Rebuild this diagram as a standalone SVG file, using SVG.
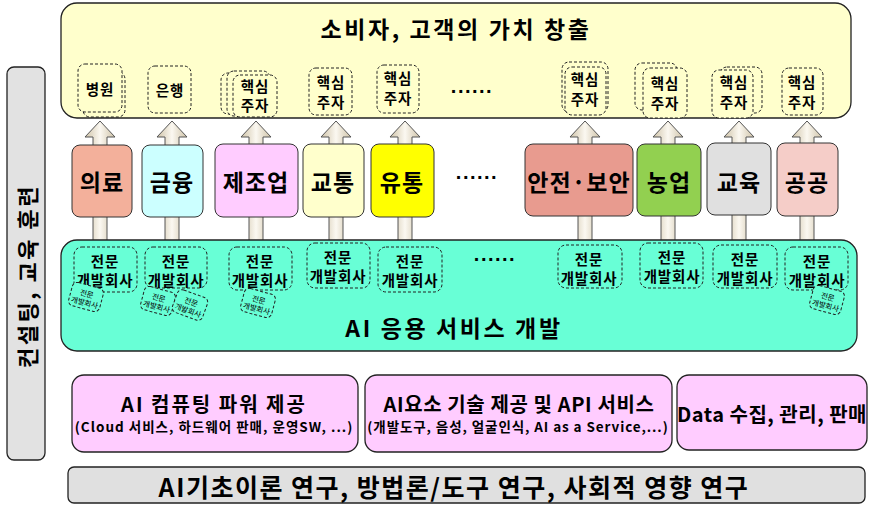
<svg xmlns="http://www.w3.org/2000/svg" width="869" height="506" viewBox="0 0 869 506">
<style>
text{font-family:"Noto Sans CJK KR","Noto Sans",sans-serif;font-weight:700;fill:#000;text-anchor:middle;dominant-baseline:central}
.big{stroke:#222;stroke-width:1.3}
.dash{fill:#ffffcc;stroke:#222;stroke-width:1;stroke-dasharray:3 2}
.dasht{fill:#68ffd6;stroke:#222;stroke-width:1;stroke-dasharray:3 2}
.sec{stroke:#333;stroke-width:1}
.s15{font-size:14.5px;letter-spacing:0.8px}
.s8{font-size:7.5px;font-weight:400}
.sec-t{font-size:23px;letter-spacing:1px}
.dots{font-family:"Liberation Sans",sans-serif;font-size:20px;letter-spacing:1.5px}
.arrow{fill:url(#ag);stroke:#555;stroke-width:1}
</style>
<defs>
<linearGradient id="ag" x1="0" y1="0" x2="1" y2="0">
<stop offset="0" stop-color="#cfc3a8"/><stop offset="0.5" stop-color="#fbf8f1"/><stop offset="1" stop-color="#cfc3a8"/>
</linearGradient>
<path id="arr" d="M-7,241 V137 H-15 L0,121 L15,137 H7 V241 Z"/>
</defs>

<g id="consulting">
<rect x="7" y="67" width="38" height="393" rx="7" fill="#e2e2e2" class="big"/>
<text transform="translate(26,276) rotate(-90)" font-size="22" letter-spacing="2.5">컨설팅, 교육 훈련</text>
</g>

<g id="value">
<rect x="61" y="3" width="790" height="115" rx="16" fill="#ffffcc" class="big"/>
<text x="456" y="28" font-size="23" letter-spacing="2.6">소비자, 고객의 가치 창출</text>
<g id="v1"><rect class="dash" x="83" y="72" width="42" height="45" rx="7"/><rect class="dash" x="78" y="64" width="44" height="48" rx="7"/><text class="s15" x="100" y="88">병원</text></g>
<g id="v2"><rect class="dash" x="148" y="66" width="43" height="47" rx="7"/><text class="s15" x="170" y="89">은행</text></g>
<g id="v3"><rect class="dash" x="221" y="73" width="41" height="41" rx="7"/><rect class="dash" x="227" y="71" width="43" height="45" rx="7"/><rect class="dash" x="233" y="75" width="44" height="42" rx="7"/><text class="s15" x="255" y="85">핵심</text><text class="s15" x="255" y="104">주자</text></g>
<g id="v4"><rect class="dash" x="309" y="68" width="43" height="47" rx="7"/><text class="s15" x="331" y="81">핵심</text><text class="s15" x="331" y="101">주자</text></g>
<g id="v5"><rect class="dash" x="377" y="65" width="42" height="48" rx="7"/><text class="s15" x="398" y="77">핵심</text><text class="s15" x="398" y="97">주자</text></g>
<text class="dots" x="472" y="86">......</text>
<g id="v6"><rect class="dash" x="562" y="62" width="46" height="50" rx="7"/><rect class="dash" x="565" y="67" width="41" height="48" rx="7"/><text class="s15" x="585" y="78">핵심</text><text class="s15" x="585" y="98">주자</text></g>
<g id="v7"><rect class="dash" x="635" y="63" width="42" height="47" rx="7"/><rect class="dash" x="643" y="68" width="44" height="50" rx="7"/><text class="s15" x="665" y="82">핵심</text><text class="s15" x="665" y="102">주자</text></g>
<g id="v8"><rect class="dash" x="720" y="67" width="42" height="46" rx="7"/><rect class="dash" x="712" y="70" width="41" height="48" rx="7"/><text class="s15" x="734" y="81">핵심</text><text class="s15" x="734" y="101">주자</text></g>
<g id="v9"><rect class="dash" x="782" y="68" width="41" height="47" rx="7"/><text class="s15" x="802" y="81">핵심</text><text class="s15" x="802" y="101">주자</text></g>
</g>

<g id="connectors">
<use href="#arr" class="arrow" x="100"/>
<use href="#arr" class="arrow" x="172"/>
<use href="#arr" class="arrow" x="256"/>
<use href="#arr" class="arrow" x="336"/>
<use href="#arr" class="arrow" x="405"/>
<use href="#arr" class="arrow" x="585"/>
<use href="#arr" class="arrow" x="668"/>
<use href="#arr" class="arrow" x="739"/>
<use href="#arr" class="arrow" x="807"/>
</g>

<g id="sectors">
<g id="s1"><rect class="sec" x="72" y="145" width="60" height="72" rx="8" fill="#f3b09b"/><text class="sec-t" x="102" y="181">의료</text></g>
<g id="s2"><rect class="sec" x="142" y="145" width="61" height="72" rx="8" fill="#ccffff"/><text class="sec-t" x="172" y="181">금융</text></g>
<g id="s3"><rect class="sec" x="215" y="144" width="83" height="73" rx="8" fill="#ffccff"/><text class="sec-t" x="256" y="181">제조업</text></g>
<g id="s4"><rect class="sec" x="303" y="144" width="61" height="73" rx="8" fill="#ffffcc"/><text class="sec-t" x="333" y="181">교통</text></g>
<g id="s5"><rect class="sec" x="371" y="144" width="63" height="73" rx="8" fill="#ffff00"/><text class="sec-t" x="402" y="181">유통</text></g>
<text class="dots" x="477" y="172">......</text>
<g id="s6"><rect class="sec" x="525" y="144" width="108" height="72" rx="8" fill="#e89b8f"/><text class="sec-t" x="579" y="181">안전·보안</text></g>
<g id="s7"><rect class="sec" x="637" y="144" width="64" height="72" rx="8" fill="#92d050"/><text class="sec-t" x="669" y="181">농업</text></g>
<g id="s8"><rect class="sec" x="707" y="143" width="64" height="72" rx="8" fill="#e0e0e0"/><text class="sec-t" x="739" y="181">교육</text></g>
<g id="s9"><rect class="sec" x="777" y="143" width="61" height="73" rx="8" fill="#f5cdc8"/><text class="sec-t" x="807" y="181">공공</text></g>
</g>

<g id="app">
<rect x="61" y="240" width="796" height="111" rx="16" fill="#68ffd6" class="big"/>
<text x="454" y="327" font-size="23" letter-spacing="2.6">AI 응용 서비스 개발</text>
<g id="c1"><rect class="dasht" x="74" y="247" width="63" height="45" rx="8"/><text class="s15" x="105" y="260">전문</text><text class="s15" x="105" y="279">개발회사</text></g>
<g id="c2"><rect class="dasht" x="145" y="247" width="62" height="41" rx="8"/><text class="s15" x="176" y="260">전문</text><text class="s15" x="176" y="279">개발회사</text></g>
<g id="c3"><rect class="dasht" x="229" y="247" width="63" height="43" rx="8"/><text class="s15" x="260" y="260">전문</text><text class="s15" x="260" y="279">개발회사</text></g>
<g id="c4"><rect class="dasht" x="307" y="243" width="63" height="45" rx="8"/><text class="s15" x="338" y="256">전문</text><text class="s15" x="338" y="275">개발회사</text></g>
<g id="c5"><rect class="dasht" x="378" y="247" width="64" height="45" rx="8"/><text class="s15" x="410" y="260">전문</text><text class="s15" x="410" y="279">개발회사</text></g>
<text class="dots" x="495" y="254">......</text>
<g id="c6"><rect class="dasht" x="558" y="245" width="64" height="43" rx="8"/><text class="s15" x="589" y="258">전문</text><text class="s15" x="589" y="277">개발회사</text></g>
<g id="c7"><rect class="dasht" x="640" y="243" width="63" height="45" rx="8"/><text class="s15" x="672" y="256">전문</text><text class="s15" x="672" y="275">개발회사</text></g>
<g id="c8"><rect class="dasht" x="713" y="245" width="64" height="43" rx="8"/><text class="s15" x="745" y="258">전문</text><text class="s15" x="745" y="277">개발회사</text></g>
<g id="c9"><rect class="dasht" x="785" y="247" width="63" height="43" rx="8"/><text class="s15" x="817" y="260">전문</text><text class="s15" x="817" y="279">개발회사</text></g>
<g id="m1" transform="translate(86,297) rotate(15)"><rect class="dasht" x="-16" y="-12" width="32" height="24" rx="5"/><text class="s8" y="-4">전문</text><text class="s8" y="5">개발회사</text></g>
<g id="m2" transform="translate(158,301) rotate(15)"><rect class="dasht" x="-16" y="-12" width="32" height="24" rx="5"/><text class="s8" y="-4">전문</text><text class="s8" y="5">개발회사</text></g>
<g id="m3" transform="translate(190,305) rotate(20)"><rect class="dasht" x="-16" y="-12" width="32" height="24" rx="5"/><text class="s8" y="-4">전문</text><text class="s8" y="5">개발회사</text></g>
<g id="m4" transform="translate(258,303) rotate(15)"><rect class="dasht" x="-16" y="-12" width="32" height="24" rx="5"/><text class="s8" y="-4">전문</text><text class="s8" y="5">개발회사</text></g>
<g id="m5" transform="translate(827,300) rotate(15)"><rect class="dasht" x="-16" y="-12" width="32" height="24" rx="5"/><text class="s8" y="-4">전문</text><text class="s8" y="5">개발회사</text></g>
</g>

<g id="infra1"><rect x="72" y="375" width="286" height="77" rx="12" fill="#ffccff" class="big"/>
<text x="214" y="403" font-size="20" letter-spacing="2">AI 컴퓨팅 파워 제공</text>
<text x="214" y="426" font-size="13.5" letter-spacing="1">(Cloud 서비스, 하드웨어 판매, 운영SW, ...)</text></g>
<g id="infra2"><rect x="365" y="375" width="307" height="77" rx="12" fill="#ffccff" class="big"/>
<text x="519" y="403" font-size="20" letter-spacing="0.6">AI요소 기술 제공 및 API 서비스</text>
<text x="518" y="426" font-size="13.5" letter-spacing="0.9">(개발도구, 음성, 얼굴인식, AI as a Service,...)</text></g>
<g id="infra3"><rect x="677" y="375" width="190" height="75" rx="12" fill="#ffccff" class="big"/>
<text x="772" y="413" font-size="20" letter-spacing="0.5">Data 수집, 관리, 판매</text></g>
<g id="research"><rect x="68" y="467" width="797" height="36" rx="6" fill="#e0e0e0" class="big"/>
<text x="454" y="486" font-size="25" letter-spacing="1.5">AI기초이론 연구, 방법론/도구 연구, 사회적 영향 연구</text></g>
</svg>
